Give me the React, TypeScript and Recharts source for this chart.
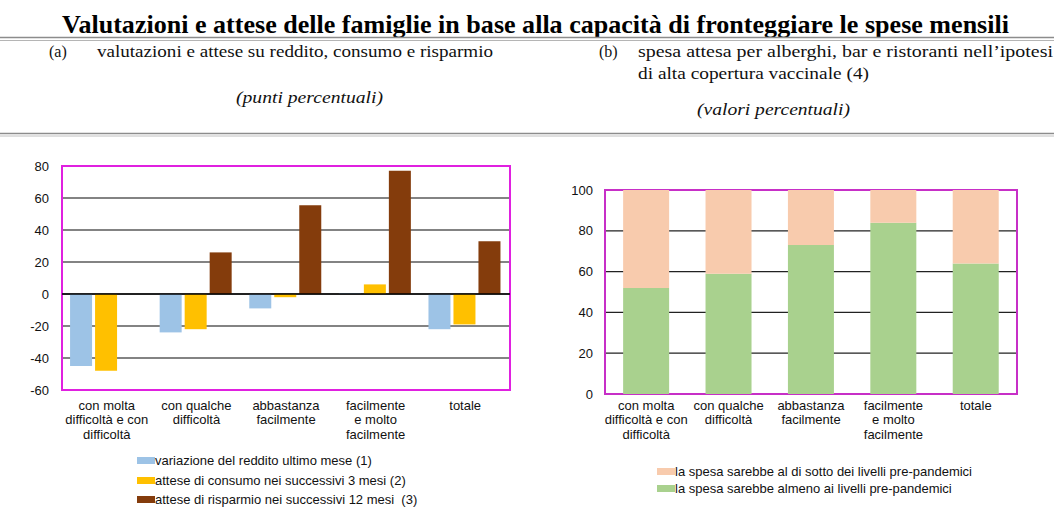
import React from "react";
import {
  BarChart,
  Bar,
  XAxis,
  YAxis,
  CartesianGrid,
  ReferenceLine,
  ReferenceArea,
} from "recharts";

// categorie comuni ai due pannelli
const categories = [
  "con molta\ndifficoltà e con\ndifficoltà",
  "con qualche\ndifficoltà",
  "abbastanza\nfacilmente",
  "facilmente\ne molto\nfacilmente",
  "totale",
];

// pannello (a) - punti percentuali
const redditoValues = [-45, -24, -9, 0.5, -22];
const consumoValues = [-48, -22, -2, 6, -19];
const risparmioValues = [null, 26, 55.5, 77, 33];
const leftTicks = [-60, -40, -20, 0, 20, 40, 60, 80];

// pannello (b) - valori percentuali
const almenoValues = [52, 59, 73, 84, 64];
const sottoValues = [48, 41, 27, 16, 36];
const rightTicks = [0, 20, 40, 60, 80, 100];

const seriesA = [
  { key: "reddito", name: "variazione del reddito ultimo mese (1)", color: "#9DC3E6" },
  { key: "consumo", name: "attese di consumo nei successivi 3 mesi (2)", color: "#FFC000" },
  { key: "risparmio", name: "attese di risparmio nei successivi 12 mesi  (3)", color: "#843C0C" },
];
const seriesB = [
  { key: "almeno", name: "la spesa sarebbe almeno ai livelli pre-pandemici", color: "#A9D18E" },
  { key: "sotto", name: "la spesa sarebbe al di sotto dei livelli pre-pandemici", color: "#F8CBAD" },
];

const dataA = categories.map((c, i) => ({
  name: c,
  reddito: redditoValues[i],
  consumo: consumoValues[i],
  risparmio: risparmioValues[i],
}));
const dataB = categories.map((c, i) => ({
  name: c,
  almeno: almenoValues[i],
  sotto: sottoValues[i],
}));

const SANS = "'Liberation Sans', Arial, sans-serif";
const SERIF = "'Liberation Serif', 'Times New Roman', serif";
const tickStyle = { fill: "#111", fontSize: 13, fontFamily: SANS };

const CategoryTick = (props: any) => {
  const { x, y, payload, firstDy, lineH } = props;
  const lines = String(payload.value).split("\n");
  return (
    <text x={x} y={y} textAnchor="middle" fontSize={13} fontFamily={SANS} fill="#111">
      {lines.map((l, i) => (
        <tspan key={i} x={x} dy={i === 0 ? firstDy : lineH}>
          {l}
        </tspan>
      ))}
    </text>
  );
};

const LegendBox = ({ items, left, top, rowH }: any) => (
  <div style={{ position: "absolute", left, top, fontFamily: SANS, fontSize: 13, color: "#111" }}>
    {items.map((it: any) => (
      <div key={it.key} style={{ height: rowH, display: "flex", alignItems: "center", whiteSpace: "pre" }}>
        <span style={{ display: "inline-block", width: 18, height: 7, background: it.color }} />
        <span>{it.name}</span>
      </div>
    ))}
  </div>
);

const Header = () => (
  <svg width={1054} height={140} style={{ position: "absolute", left: 0, top: 0 }}>
    <text x={62} y={32.5} fontFamily={SERIF} fontWeight="bold" fontSize={25} textLength={947} lengthAdjust="spacingAndGlyphs">
      Valutazioni e attese delle famiglie in base alla capacità di fronteggiare le spese mensili
    </text>
    <line x1={0} x2={1054} y1={37.5} y2={37.5} stroke="#8c8c8c" strokeWidth={1.5} />
    <line x1={0} x2={1054} y1={40.5} y2={40.5} stroke="#b5b5b5" strokeWidth={1} />

    <text x={49} y={57} fontFamily={SERIF} fontSize={16} fill="#111">(a)</text>
    <text x={97} y={57} fontFamily={SERIF} fontSize={16} fill="#111" textLength={396} lengthAdjust="spacingAndGlyphs">
      valutazioni e attese su reddito, consumo e risparmio
    </text>
    <text x={236} y={103} fontFamily={SERIF} fontSize={16} fontStyle="italic" fill="#111" textLength={147} lengthAdjust="spacingAndGlyphs">
      (punti percentuali)
    </text>

    <text x={599} y={57} fontFamily={SERIF} fontSize={16} fill="#111">(b)</text>
    <text x={638} y={57} fontFamily={SERIF} fontSize={16} fill="#111" textLength={415} lengthAdjust="spacingAndGlyphs">
      spesa attesa per alberghi, bar e ristoranti nell’ipotesi
    </text>
    <text x={638} y={79} fontFamily={SERIF} fontSize={16} fill="#111" textLength={231} lengthAdjust="spacingAndGlyphs">
      di alta copertura vaccinale (4)
    </text>
    <text x={697} y={115} fontFamily={SERIF} fontSize={16} fontStyle="italic" fill="#111" textLength={153} lengthAdjust="spacingAndGlyphs">
      (valori percentuali)
    </text>

    <line x1={0} x2={1054} y1={133.5} y2={133.5} stroke="#8c8c8c" strokeWidth={1.5} />
    <line x1={0} x2={1054} y1={136} y2={136} stroke="#c0c0c0" strokeWidth={1} />
  </svg>
);

export default function App() {
  return (
    <div style={{ position: "absolute", left: 0, top: 0, width: 1054, height: 508, background: "#fff", overflow: "hidden" }}>
      <Header />

      {/* pannello (a) */}
      <div style={{ position: "absolute", left: 0, top: 150 }}>
        <BarChart
          width={555}
          height={358}
          data={dataA}
          margin={{ top: 16, right: 0, bottom: 0, left: 0 }}
          barGap={3}
          barCategoryGap="9%"
        >
          <CartesianGrid yAxisId="l" vertical={false} stroke="#5a5a5a" strokeWidth={1.3} />
          <XAxis
            dataKey="name"
            height={118}
            axisLine={false}
            tickLine={false}
            tickSize={0}
            tickMargin={0}
            interval={0}
            tick={(p: any) => <CategoryTick {...p} firstDy={19.6} lineH={14.5} />}
          />
          <YAxis
            yAxisId="l"
            width={62}
            domain={[-60, 80]}
            ticks={leftTicks}
            axisLine={false}
            tickLine={false}
            tickSize={0}
            tickMargin={13}
            tick={tickStyle}
          />
          <YAxis
            yAxisId="r"
            orientation="right"
            width={45}
            domain={[-60, 80]}
            ticks={leftTicks}
            axisLine={false}
            tickLine={false}
            tickSize={0}
            tickMargin={13}
            tick={{ ...tickStyle, textAnchor: "start" }}
          />
          {seriesA.map((s) => (
            <Bar key={s.key} yAxisId="l" dataKey={s.key} name={s.name} fill={s.color} isAnimationActive={false} />
          ))}
          <ReferenceLine yAxisId="l" y={0} stroke="#000" strokeWidth={1.5} />
          <ReferenceArea yAxisId="l" y1={-60} y2={80} fill="none" stroke="#e020e0" strokeWidth={2} ifOverflow="visible" />
        </BarChart>
      </div>
      <LegendBox items={seriesA} left={137} top={451} rowH={19.5} />

      {/* pannello (b) */}
      <div style={{ position: "absolute", left: 555, top: 150 }}>
        <BarChart
          width={499}
          height={358}
          data={dataB}
          margin={{ top: 40, right: 0, bottom: 0, left: 0 }}
          barCategoryGap="22%"
        >
          <CartesianGrid yAxisId="l" vertical={false} stroke="#222" strokeWidth={1.3} />
          <XAxis
            dataKey="name"
            height={114}
            axisLine={false}
            tickLine={false}
            tickSize={0}
            tickMargin={0}
            interval={0}
            tick={(p: any) => <CategoryTick {...p} firstDy={16} lineH={14.3} />}
          />
          <YAxis
            yAxisId="l"
            width={50}
            domain={[0, 100]}
            ticks={rightTicks}
            axisLine={false}
            tickLine={false}
            tickSize={0}
            tickMargin={12}
            tick={tickStyle}
          />
          <YAxis
            yAxisId="r"
            orientation="right"
            width={37}
            domain={[0, 100]}
            ticks={rightTicks}
            axisLine={false}
            tickLine={false}
            tickSize={0}
            tickMargin={11}
            tick={{ ...tickStyle, textAnchor: "start" }}
          />
          {seriesB.map((s) => (
            <Bar key={s.key} yAxisId="l" dataKey={s.key} name={s.name} stackId="b" fill={s.color} isAnimationActive={false} />
          ))}
          <ReferenceArea yAxisId="l" y1={0} y2={100} fill="none" stroke="#c72fc7" strokeWidth={2} ifOverflow="visible" />
        </BarChart>
      </div>
      <LegendBox items={[seriesB[1], seriesB[0]]} left={657} top={463} rowH={17} />
    </div>
  );
}
